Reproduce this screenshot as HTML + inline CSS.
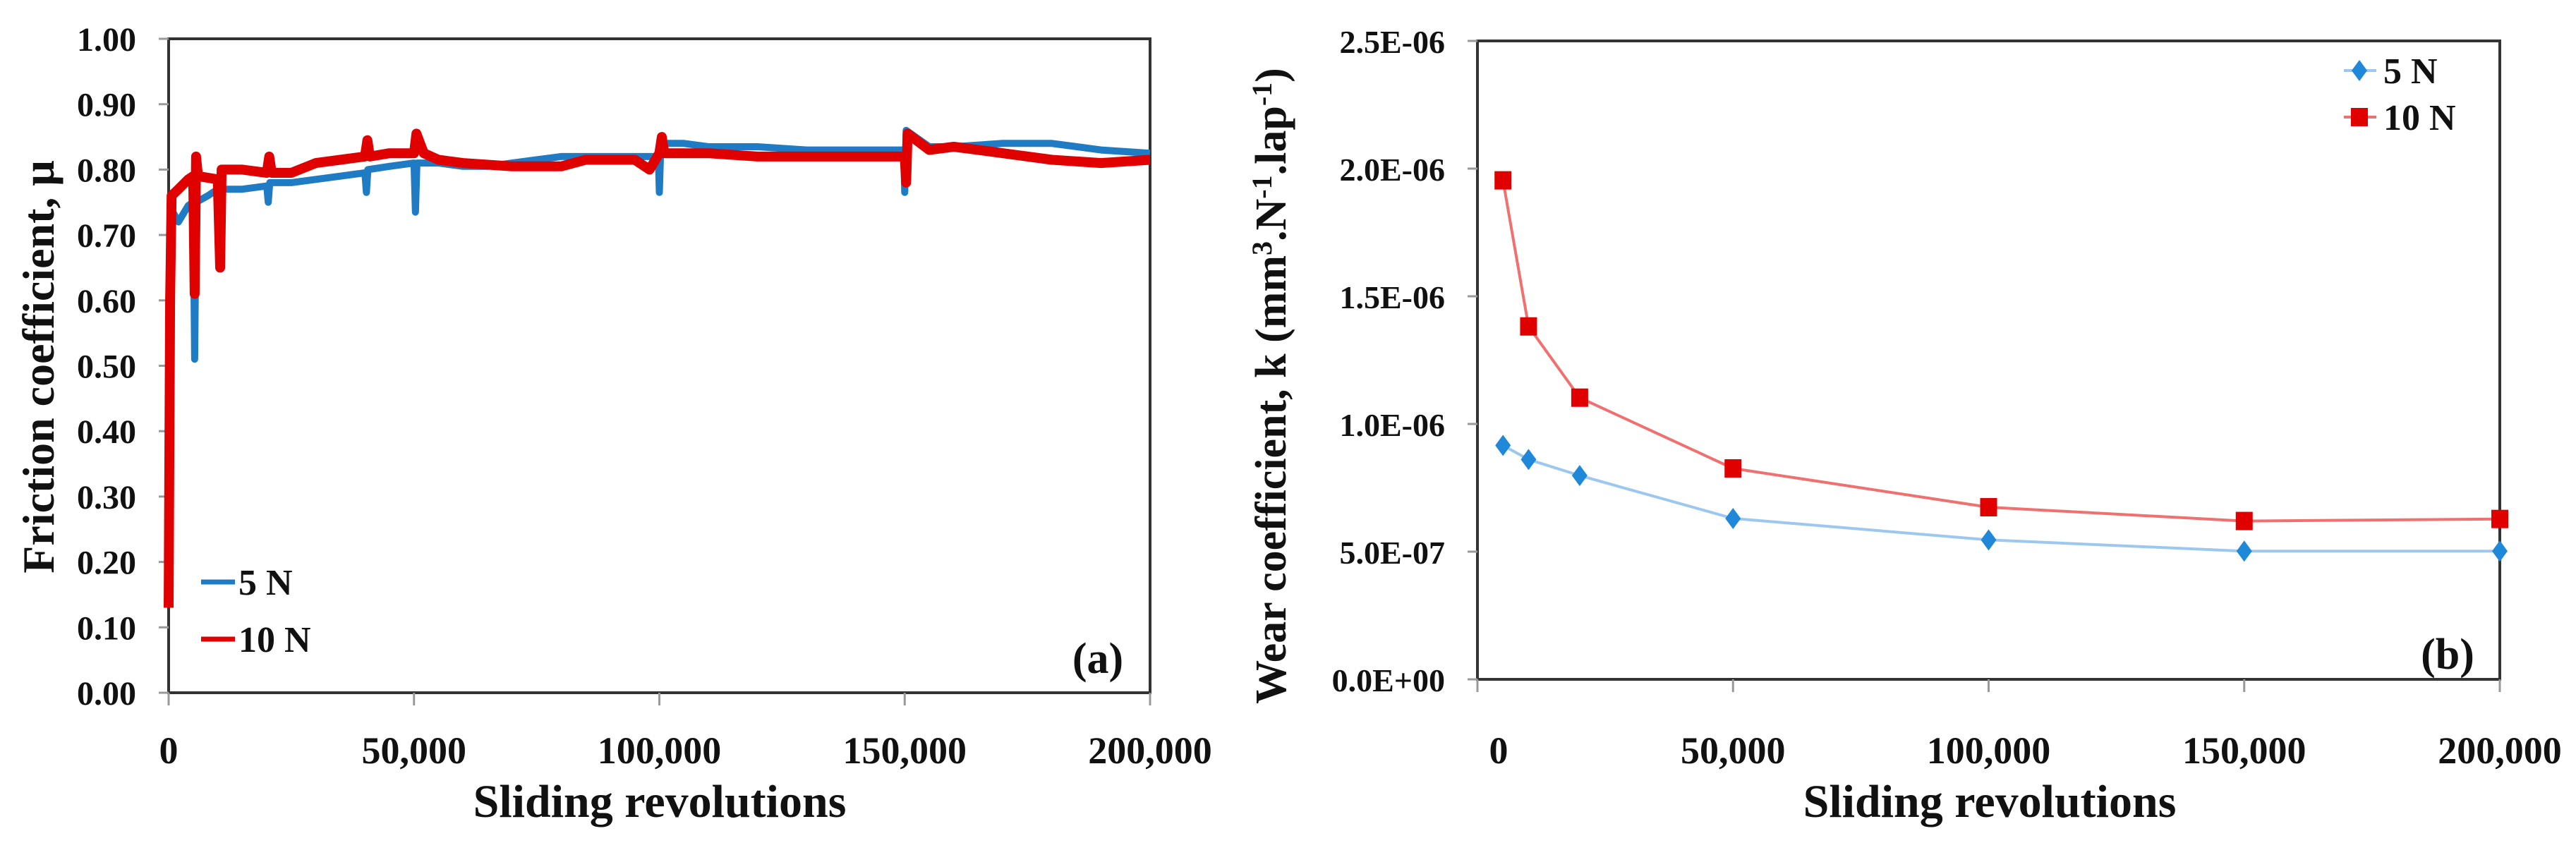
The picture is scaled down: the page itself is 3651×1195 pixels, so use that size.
<!DOCTYPE html>
<html><head><meta charset="utf-8"><style>
html,body{margin:0;padding:0;background:#fff;}
svg{display:block;}
text{font-family:"Liberation Serif",serif;font-weight:bold;fill:#111;}
</style></head><body>
<svg id="fig" width="3651" height="1195" viewBox="0 0 3651 1195" xmlns="http://www.w3.org/2000/svg"></svg>
<script>
// ---- Chart (a) data ----
const fricTicks = [0,0.1,0.2,0.3,0.4,0.5,0.6,0.7,0.8,0.9,1.0];
const fricTickLabels = ["0.00","0.10","0.20","0.30","0.40","0.50","0.60","0.70","0.80","0.90","1.00"];
const revTicks = [0,50000,100000,150000,200000];
const revTickLabels = ["0","50,000","100,000","150,000","200,000"];
const rev5N = [0,500,2000,4000,5000,5300,5600,8000,10000,15000,20000,20300,20600,25000,30000,35000,40000,40300,40600,45000,50000,50300,50600,55000,60000,65000,70000,75000,80000,85000,90000,95000,99800,100000,100300,105000,110000,120000,130000,140000,149800,150000,150300,155000,160000,170000,180000,190000,200000];
const mu5N = [0.55,0.74,0.72,0.745,0.75,0.51,0.75,0.76,0.77,0.77,0.775,0.75,0.78,0.78,0.785,0.79,0.795,0.765,0.80,0.805,0.81,0.735,0.81,0.81,0.805,0.805,0.81,0.815,0.82,0.82,0.82,0.82,0.82,0.765,0.84,0.84,0.835,0.835,0.83,0.83,0.83,0.765,0.86,0.835,0.835,0.84,0.84,0.83,0.825];
const rev10N = [0,300,600,2000,4000,5000,5300,5600,6000,10000,10500,10800,15000,20000,20500,21000,25000,30000,35000,40000,40500,41000,45000,50000,50500,52000,55000,60000,70000,80000,85000,90000,95000,98000,100000,100500,101000,110000,120000,130000,140000,150000,150300,150600,155000,160000,170000,180000,190000,200000];
const mu10N = [0.13,0.6,0.76,0.77,0.785,0.79,0.61,0.82,0.79,0.785,0.65,0.80,0.80,0.795,0.82,0.795,0.795,0.81,0.815,0.82,0.845,0.82,0.825,0.825,0.855,0.825,0.815,0.81,0.805,0.805,0.815,0.815,0.815,0.80,0.825,0.85,0.825,0.825,0.82,0.82,0.82,0.82,0.78,0.855,0.83,0.835,0.825,0.815,0.81,0.815];
// ---- Chart (b) data ----
const wearTicks = [0,5e-7,1e-6,1.5e-6,2e-6,2.5e-6];
const wearTickLabels = ["0.0E+00","5.0E-07","1.0E-06","1.5E-06","2.0E-06","2.5E-06"];
const wearRev = [5000,10000,20000,50000,100000,150000,200000];
const wear5N = [0.916e-6,0.861e-6,0.798e-6,0.630e-6,0.546e-6,0.502e-6,0.502e-6];
const wear10N = [1.954e-6,1.382e-6,1.103e-6,0.826e-6,0.674e-6,0.620e-6,0.628e-6];

const NS="http://www.w3.org/2000/svg";
const svg=document.getElementById('fig');
function mk(tag,attrs,parent){const e=document.createElementNS(NS,tag);for(const k in attrs)e.setAttribute(k,attrs[k]);(parent||svg).appendChild(e);return e;}
function txt(s,attrs,parent){const e=mk('text',attrs,parent);e.textContent=s;return e;}

const A={x0:239,x1:1630,y0:982,y1:55};
const ax=v=>A.x0+(v/200000)*(A.x1-A.x0);
const ay=v=>A.y0-(v/1.0)*(A.y0-A.y1);
const B={x0:2094,x1:3543,y0:963,y1:58};
const bx=v=>B.x0+(v/200000)*(B.x1-B.x0);
const by=v=>B.y0-(v/2.5e-6)*(B.y0-B.y1);

// ===== Chart (a) =====
const ga=mk('g',{});


const fa=mk('rect',{x:A.x0,y:A.y1,width:A.x1-A.x0,height:A.y0-A.y1,fill:'none',stroke:'#333','stroke-width':4},ga);


fricTicks.forEach((t,i)=>{
  const y=ay(t);
  const l=mk('line',{x1:A.x0-14,x2:A.x0,y1:y,y2:y,stroke:'#999','stroke-width':3},ga);
  
  
  const tx=txt(fricTickLabels[i],{x:193,y:y+17,'font-size':48,'text-anchor':'end'},ga);
  
  
});
revTicks.forEach((t,i)=>{
  const x=ax(t);
  const l=mk('line',{x1:x,x2:x,y1:A.y0,y2:A.y0+18,stroke:'#999','stroke-width':3},ga);
  
  
  const tx=txt(revTickLabels[i],{x:x,y:1082,'font-size':54,'text-anchor':'middle'},ga);
  
  
});
function poly(xs,ys,fx,fy,color,w,parent,name){
  const p=xs.map((v,i)=>fx(v).toFixed(1)+','+fy(ys[i]).toFixed(1)).join(' ');
  const e=mk('polyline',{points:p,fill:'none',stroke:color,'stroke-width':w,'stroke-linejoin':'round'},parent);
  
  
  return e;
}
poly(rev5N,mu5N,ax,ay,'#1f7bc4',10,ga,'series-5n-friction');
poly(rev10N,mu10N,ax,ay,'#e00000',14,ga,'series-10n-friction');
const xta=txt('Sliding revolutions',{x:935,y:1158,'font-size':66,'text-anchor':'middle'},ga);


const yta=txt('Friction coefficient, μ',{x:0,y:0,'font-size':64,'text-anchor':'middle',transform:'translate(76,520) rotate(-90)'},ga);


const la1=mk('line',{x1:285,x2:333,y1:825,y2:825,stroke:'#1f7bc4','stroke-width':7},ga);


const lt1=txt('5 N',{x:338,y:843,'font-size':52},ga);


const la2=mk('line',{x1:285,x2:333,y1:906,y2:906,stroke:'#e00000','stroke-width':7},ga);


const lt2=txt('10 N',{x:338,y:924,'font-size':52},ga);


const pa=txt('(a)',{x:1556,y:954,'font-size':62,'text-anchor':'middle'},ga);



// ===== Chart (b) =====
const gb=mk('g',{});


const fb=mk('rect',{x:B.x0,y:B.y1,width:B.x1-B.x0,height:B.y0-B.y1,fill:'none',stroke:'#333','stroke-width':4},gb);


wearTicks.forEach((t,i)=>{
  const y=by(t);
  const l=mk('line',{x1:B.x0-14,x2:B.x0,y1:y,y2:y,stroke:'#999','stroke-width':3},gb);
  
  
  const tx=txt(wearTickLabels[i],{x:2048,y:y+17,'font-size':46,'text-anchor':'end'},gb);
  
  
});
revTicks.forEach((t,i)=>{
  const x=bx(t);
  const l=mk('line',{x1:x,x2:x,y1:B.y0,y2:B.y0+18,stroke:'#999','stroke-width':3},gb);
  
  
  const tx=txt(revTickLabels[i],{x:i===0?x+30:x,y:1082,'font-size':54,'text-anchor':'middle'},gb);
  
  
});
poly(wearRev,wear5N,bx,by,'#9cc8f0',4,gb,'series-5n-wear-line');
poly(wearRev,wear10N,bx,by,'#f07070',4,gb,'series-10n-wear-line');
wearRev.forEach((r,i)=>{
  const x=bx(r),y=by(wear5N[i]);
  const d=mk('polygon',{points:`${x},${y-15} ${x+11},${y} ${x},${y+15} ${x-11},${y}`,fill:'#1f88d8'},gb);
  
  
});
wearRev.forEach((r,i)=>{
  const x=bx(r),y=by(wear10N[i]);
  const s=mk('rect',{x:x-12,y:y-13,width:24,height:26,fill:'#e00000'},gb);
  
  
});
const xtb=txt('Sliding revolutions',{x:2820,y:1158,'font-size':66,'text-anchor':'middle'},gb);


const ytb=mk('text',{x:0,y:0,'font-size':62,'text-anchor':'middle',transform:'translate(1822,547) rotate(-90)'},gb);


ytb.innerHTML='Wear coefficient, k (mm<tspan dy="-20" font-size="40">3</tspan><tspan dy="20">.N</tspan><tspan dy="-20" font-size="40">-1</tspan><tspan dy="20">.lap</tspan><tspan dy="-20" font-size="40">-1</tspan><tspan dy="20">)</tspan>';
const lb1=mk('line',{x1:3322,x2:3368,y1:100,y2:100,stroke:'#9cc8f0','stroke-width':4},gb);


const lbm1=mk('polygon',{points:'3344,85 3355,100 3344,115 3333,100',fill:'#1f88d8'},gb);


const lbt1=txt('5 N',{x:3378,y:118,'font-size':52},gb);


const lb2=mk('line',{x1:3322,x2:3368,y1:166,y2:166,stroke:'#f07070','stroke-width':4},gb);


const lbm2=mk('rect',{x:3332,y:153,width:24,height:26,fill:'#e00000'},gb);


const lbt2=txt('10 N',{x:3378,y:184,'font-size':52},gb);


const pb=txt('(b)',{x:3469,y:948,'font-size':62,'text-anchor':'middle'},gb);


</script>
</body></html>
